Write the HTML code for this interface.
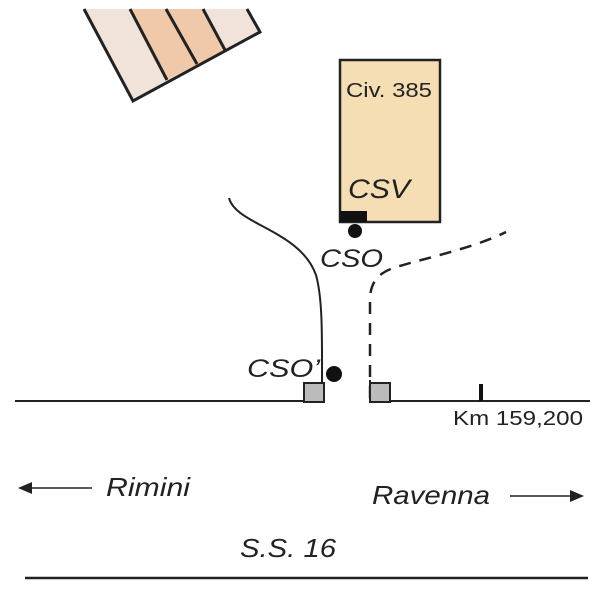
<!DOCTYPE html>
<html><head><style>body{margin:0;background:#fff}svg{display:block}text{font-family:"Liberation Sans",sans-serif;fill:#222}</style></head><body>
<svg width="600" height="600" viewBox="0 0 600 600">
<polygon points="84,9 130,9 167,80 133,101" fill="#f1e2da"/>
<polygon points="130,9 203,9 225,50 167,80" fill="#f0c9aa"/>
<polygon points="203,9 247,9 260,32 225,50" fill="#f1e2da"/>
<g stroke="#222" stroke-width="3" fill="none">
<polyline points="84,9 133,101 260,32 247,9"/>
<line x1="130" y1="9" x2="167" y2="80"/>
<line x1="166" y1="9" x2="197" y2="64"/>
<line x1="203" y1="9" x2="225" y2="50"/>
</g>
<rect x="340" y="60" width="100" height="162" fill="#f5deb3" stroke="#222" stroke-width="2.5"/>
<rect x="340" y="211" width="27" height="11" fill="#111"/>
<text x="346" y="97" font-size="20" textLength="86" lengthAdjust="spacingAndGlyphs">Civ. 385</text>
<text x="348" y="198" font-size="27" font-style="italic" textLength="62" lengthAdjust="spacingAndGlyphs">CSV</text>
<circle cx="355" cy="231" r="7" fill="#111"/>
<text x="320" y="267" font-size="25" font-style="italic" textLength="63" lengthAdjust="spacingAndGlyphs">CSO</text>
<path d="M229,198 C236,225 300,230 316,275 C323,300 322,340 322,395" stroke="#222" stroke-width="2" fill="none"/>
<circle cx="334" cy="374" r="8" fill="#111"/>
<text x="247" y="377" font-size="25" font-style="italic" textLength="73" lengthAdjust="spacingAndGlyphs">CSO’</text>
<path d="M370,398 L370,300 C370,270 395,268 410,263 C440,255 480,245 506,232" stroke="#222" stroke-width="2.5" stroke-dasharray="12,9" fill="none"/>
<line x1="370" y1="380" x2="370" y2="400" stroke="#222" stroke-width="2"/>
<line x1="15" y1="401" x2="305" y2="401" stroke="#222" stroke-width="2"/>
<line x1="390" y1="401" x2="590" y2="401" stroke="#222" stroke-width="2"/>
<rect x="304" y="383" width="20" height="19" fill="#bbb" stroke="#222" stroke-width="2"/>
<rect x="370" y="383" width="20" height="19" fill="#bbb" stroke="#222" stroke-width="2"/>
<line x1="481" y1="384" x2="481" y2="401" stroke="#111" stroke-width="4"/>
<text x="453" y="425" font-size="20" textLength="130" lengthAdjust="spacingAndGlyphs">Km 159,200</text>
<line x1="22" y1="488" x2="92" y2="488" stroke="#222" stroke-width="1.5"/>
<polygon points="18,488 32,482 32,494" fill="#222"/>
<text x="106" y="496" font-size="26" font-style="italic" textLength="84" lengthAdjust="spacingAndGlyphs">Rimini</text>
<text x="372" y="504" font-size="26" font-style="italic" textLength="118" lengthAdjust="spacingAndGlyphs">Ravenna</text>
<line x1="510" y1="496" x2="575" y2="496" stroke="#222" stroke-width="1.5"/>
<polygon points="584,496 570,490 570,502" fill="#222"/>
<text x="240" y="557" font-size="26" font-style="italic" textLength="96" lengthAdjust="spacingAndGlyphs">S.S. 16</text>
<line x1="25" y1="578" x2="588" y2="578" stroke="#222" stroke-width="2.5"/>
</svg></body></html>
